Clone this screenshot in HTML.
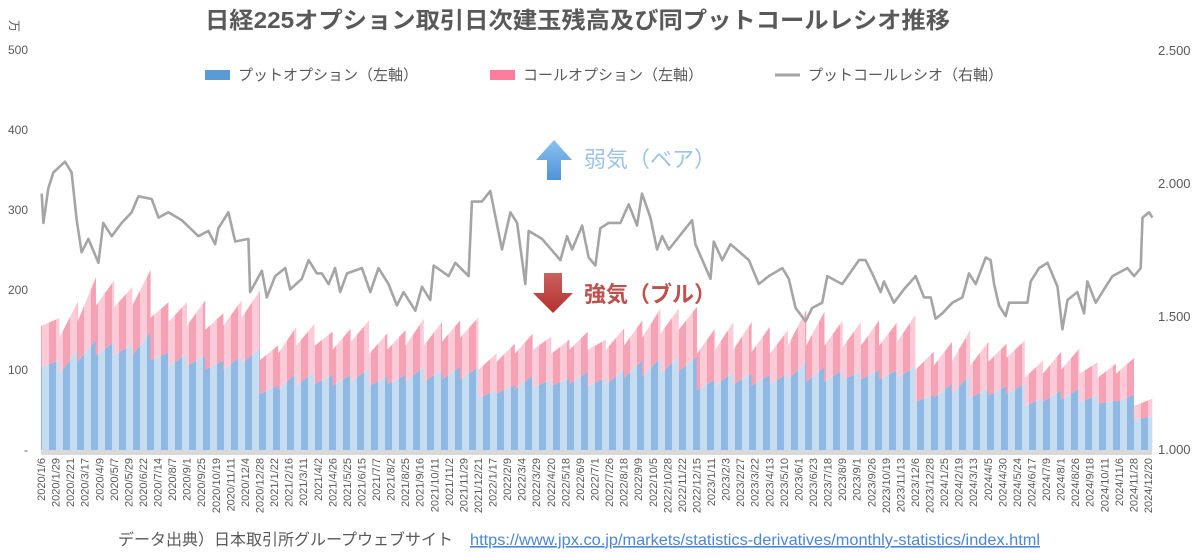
<!DOCTYPE html>
<html><head><meta charset="utf-8"><style>
body{margin:0;background:#fff;}
svg{display:block;font-family:"Liberation Sans","Noto Sans CJK JP",sans-serif;}
</style></head><body>
<svg id="chart" width="1200" height="560" viewBox="0 0 1200 560" xmlns="http://www.w3.org/2000/svg">
<defs>
<pattern id="pPut" patternUnits="userSpaceOnUse" width="14" height="10"><rect x="0" y="0" width="7" height="10" fill="#c6dcf0"/><rect x="7" y="0" width="7" height="10" fill="#8fb9e2"/></pattern>
<pattern id="pCall" patternUnits="userSpaceOnUse" width="14" height="10"><rect x="0" y="0" width="7" height="10" fill="#fccbd7"/><rect x="7" y="0" width="7" height="10" fill="#f7a1b5"/></pattern>
<linearGradient id="gBlue" x1="0" y1="0" x2="0" y2="1"><stop offset="0" stop-color="#8cc0f2"/><stop offset="1" stop-color="#4f93d8"/></linearGradient>
<linearGradient id="gRed" x1="0" y1="0" x2="0" y2="1"><stop offset="0" stop-color="#c9615e"/><stop offset="1" stop-color="#b5302c"/></linearGradient>
</defs>
<text x="205" y="28" font-size="23" font-weight="bold" fill="#595959" textLength="745" lengthAdjust="spacingAndGlyphs">日経225オプション取引日次建玉残高及び同プットコールレシオ推移</text>
<text x="10" y="28" font-size="12" fill="#595959" transform="rotate(90 14 24)">万</text>
<g id="yl"></g>
<g id="yr"></g>
<g id="bars"></g>
<rect x="41" y="450" width="1111" height="5" fill="#d9d9d9"/>
<g id="line"></g>
<g id="xl"></g>
<g>
<g><rect x="205" y="70" width="25" height="10" fill="#5b9bd5"/><text x="238" y="80" font-size="15" fill="#595959">プットオプション（左軸）</text></g>
<g><rect x="490" y="70" width="25" height="10" fill="#ff7c9c"/><text x="523" y="80" font-size="15" fill="#595959">コールオプション（左軸）</text></g>
<g><line x1="775" y1="75" x2="800" y2="75" stroke="#a5a5a5" stroke-width="3"/><text x="808" y="80" font-size="15" fill="#595959">プットコールレシオ（右軸）</text></g>
</g>
<g><polygon points="547,180 561,180 561,160 572,160 554,140 536,160 547,160" fill="url(#gBlue)"/><text x="584" y="167" font-size="22" fill="#9dc3e6">弱気（ベア）</text></g>
<g><polygon points="544,273 562,273 562,293 573,293 553,313 533,293 544,293" fill="url(#gRed)"/><text x="584" y="302" font-size="22" font-weight="bold" fill="#c0504d">強気（ブル）</text></g>
<text x="118" y="545" font-size="16" fill="#595959">データ出典）日本取引所グループウェブサイト</text>
<text x="470" y="545" font-size="16" fill="#4a86d4" text-decoration="underline" textLength="570" lengthAdjust="spacingAndGlyphs">https://www.jpx.co.jp/markets/statistics-derivatives/monthly-statistics/index.html</text>
</svg>
<script>
const putStart=[104,95,110,118,118,118,112,105,105,100,100,108,70,75,80,82,80,85,80,82,85,85,88,88,65,70,75,78,80,82,80,82,90,92,95,98,75,80,82,80,82,88,85,85,88,88,88,90,60,65,70,65,68,70,55,60,63,60,58,60,38];
const putEnd=[112,125,138,135,132,148,122,120,118,112,118,127,81,96,98,94,94,102,92,94,104,100,104,104,75,82,94,88,90,98,90,100,112,115,117,117,88,98,96,94,96,110,104,100,98,100,100,104,69,83,94,77,80,83,65,75,77,68,62,69,42];
const callStart=[51,45,50,62,60,62,53,55,50,50,55,57,42,45,50,48,45,50,40,43,45,45,47,52,35,40,45,47,40,43,45,43,40,48,50,52,45,45,43,42,38,42,45,45,40,42,42,45,40,40,40,40,42,45,35,35,37,35,32,35,17];
const callEnd=[53,60,78,77,72,77,63,65,69,59,69,72,50,58,60,54,58,60,54,56,60,60,58,62,46,51,52,54,48,50,48,52,50,62,60,62,64,62,64,60,54,65,69,62,62,62,60,65,54,52,56,58,53,54,47,48,50,42,46,46,22];
const ratioT=[0.04,0.13,0.40,0.68,1.32,1.68,1.96,2.23,2.60,3.15,3.42,3.88,4.43,4.98,5.35,6.08,6.45,6.99,7.73,8.64,9.19,9.56,9.74,10.29,10.66,11.39,11.48,12.13,12.40,12.86,13.41,13.68,14.32,14.69,15.15,15.42,15.79,16.15,16.43,16.80,17.62,18.08,18.53,19.08,19.54,19.91,20.55,20.92,21.37,21.56,22.38,22.75,23.48,23.66,24.21,24.67,25.31,25.77,26.14,26.59,26.78,27.51,28.52,28.88,29.16,29.71,30.07,30.44,30.71,31.17,31.81,32.27,32.73,33.00,33.46,33.83,34.10,34.47,35.75,35.93,36.76,36.94,37.40,37.86,38.87,39.41,39.96,40.70,41.06,41.43,41.98,42.34,42.89,43.17,43.99,44.91,45.27,45.64,46.10,46.28,46.83,47.38,48.02,48.48,48.85,49.12,49.49,50.04,50.59,50.95,51.32,51.87,52.14,52.33,52.60,52.97,53.15,54.16,54.34,54.80,55.26,55.81,56.08,56.36,56.90,57.27,57.45,57.91,58.46,58.83,59.65,60.02,60.38,60.48,60.84,61.02];
const ratio=[1.96,1.85,1.98,2.04,2.08,2.04,1.86,1.74,1.79,1.70,1.85,1.80,1.85,1.89,1.95,1.94,1.87,1.89,1.86,1.80,1.82,1.77,1.83,1.89,1.78,1.79,1.59,1.67,1.57,1.65,1.68,1.60,1.64,1.71,1.66,1.66,1.62,1.68,1.59,1.66,1.68,1.59,1.68,1.62,1.54,1.59,1.52,1.61,1.56,1.69,1.65,1.70,1.65,1.93,1.93,1.97,1.75,1.89,1.85,1.62,1.82,1.79,1.71,1.80,1.75,1.84,1.72,1.69,1.83,1.85,1.85,1.92,1.84,1.96,1.87,1.75,1.80,1.75,1.86,1.77,1.64,1.78,1.71,1.77,1.71,1.62,1.65,1.68,1.64,1.53,1.48,1.53,1.55,1.65,1.62,1.71,1.71,1.66,1.59,1.63,1.55,1.60,1.65,1.57,1.57,1.49,1.51,1.55,1.57,1.66,1.62,1.72,1.71,1.62,1.54,1.50,1.55,1.55,1.63,1.68,1.70,1.61,1.45,1.56,1.59,1.51,1.63,1.55,1.61,1.65,1.68,1.65,1.68,1.87,1.89,1.87];
const leftTicks=["-","100","200","300","400","500"];
const leftTickVals=[0,100,200,300,400,500];
const rightTicks=["1.000","1.500","2.000","2.500"];
const rightTickVals=[1.0,1.5,2.0,2.5];
const xLabels=["2020/1/6","2020/1/29","2020/2/21","2020/3/17","2020/4/9","2020/5/7","2020/5/29","2020/6/22","2020/7/14","2020/8/7","2020/9/1","2020/9/25","2020/10/19","2020/11/11","2020/12/4","2020/12/28","2021/1/22","2021/2/16","2021/3/11","2021/4/2","2021/4/26","2021/5/25","2021/6/15","2021/7/7","2021/8/2","2021/8/25","2021/9/16","2021/10/11","2021/11/2","2021/11/29","2021/12/21","2022/1/17","2022/2/9","2022/3/4","2022/3/29","2022/4/20","2022/5/18","2022/6/9","2022/7/1","2022/7/26","2022/8/18","2022/9/9","2022/10/5","2022/10/28","2022/11/22","2022/12/15","2023/1/11","2023/2/3","2023/2/27","2023/3/22","2023/4/13","2023/5/10","2023/6/1","2023/6/23","2023/7/18","2023/8/9","2023/9/1","2023/9/26","2023/10/19","2023/11/13","2023/12/6","2023/12/28","2024/1/25","2024/2/19","2024/3/13","2024/4/5","2024/4/30","2024/5/24","2024/6/17","2024/7/9","2024/8/1","2024/8/26","2024/9/18","2024/10/11","2024/11/6","2024/11/28","2024/12/20"];

const NS="http://www.w3.org/2000/svg";
const X0=41,X1=1152,N=putStart.length;
const X=t=>X0+t*(X1-X0)/N;
const YL=v=>450-v*0.8;
const YR=r=>449-(r-1)*266;
function mk(tag,attrs,parent){const e=document.createElementNS(NS,tag);for(const k in attrs)e.setAttribute(k,attrs[k]);parent.appendChild(e);return e;}
const yl=document.getElementById('yl'),yr=document.getElementById('yr'),bars=document.getElementById('bars'),line=document.getElementById('line'),xl=document.getElementById('xl');
leftTicks.forEach((s,i)=>{const t=mk('text',{x:28,y:YL(leftTickVals[i])+4,'text-anchor':'end','font-size':12,fill:'#595959'},yl);t.textContent=s;

});
rightTicks.forEach((s,i)=>{const t=mk('text',{x:1158,y:YR(rightTickVals[i])+5,'font-size':13,fill:'#595959'},yr);t.textContent=s;

});
for(let i=0;i<N;i++){
 const a=X(i),b=X(i+1)+0.3;
 const p=mk('polygon',{points:`${a},${YL(0)} ${a},${YL(putStart[i])} ${b},${YL(putEnd[i])} ${b},${YL(0)}`,fill:'url(#pPut)'},bars);
 
 
 const c=mk('polygon',{points:`${a},${YL(putStart[i])} ${a},${YL(putStart[i]+callStart[i])} ${b},${YL(putEnd[i]+callEnd[i])} ${b},${YL(putEnd[i])}`,fill:'url(#pCall)'},bars);
 
 
}
const pl=mk('polyline',{points:ratio.map((r,i)=>X(ratioT[i]).toFixed(1)+','+YR(r).toFixed(1)).join(' '),fill:'none',stroke:'#a5a5a5','stroke-width':2.6,'stroke-linejoin':'round'},line);


const step=(1148-41)/(xLabels.length-1);
xLabels.forEach((s,i)=>{const x=41+i*step+4;const t=mk('text',{x:x,y:458,'text-anchor':'end','font-size':11,fill:'#595959',transform:`rotate(-90 ${x} 458)`},xl);t.textContent=s;

});
</script>
</body></html>
